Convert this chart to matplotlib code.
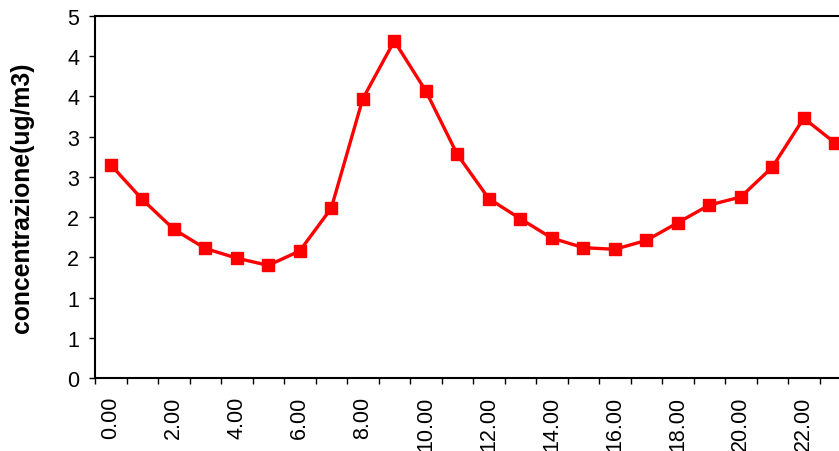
import matplotlib
matplotlib.use('Agg')
import matplotlib.pyplot as plt
import numpy as np
from matplotlib.ticker import FixedLocator, FuncFormatter

plt.rcParams['font.family'] = ['Liberation Sans', 'DejaVu Sans']

# hourly concentration
hours = ['%d.00' % h for h in range(24)]
conc = [2.65, 2.22, 1.85, 1.61, 1.49, 1.40, 1.58, 2.11, 3.47, 4.19, 3.57, 2.78,
        2.23, 1.98, 1.74, 1.62, 1.60, 1.71, 1.93, 2.15, 2.25, 2.62, 3.23, 2.92]
y_ticks = [0, 0.5, 1, 1.5, 2, 2.5, 3, 3.5, 4, 4.5]

fig = plt.figure(figsize=(8.39, 4.52), dpi=100)
# axes runs past the right edge of the figure, like the original
ax = fig.add_axes([95/839, 1-379/452, 756/839, 362/452])

x = np.arange(len(conc))
ax.plot(x, conc, color='#ff0000', lw=2.4, marker='s', ms=8.8, mec='#ff0000', mfc='#ff0000')

ax.set_xlim(-0.5, len(conc) - 0.5)
ax.set_ylim(0, 4.5)

ax.xaxis.set_major_locator(FixedLocator(x[::2]))
ax.set_xticklabels(hours[::2], rotation=90)
ax.xaxis.set_minor_locator(FixedLocator(np.arange(-0.5, len(conc), 1)))
ax.tick_params(axis='x', which='major', length=0, pad=13, labelsize=15.5)
ax.tick_params(axis='x', which='minor', length=4.5, width=1, direction='out')

ax.yaxis.set_major_locator(FixedLocator(y_ticks))
ax.yaxis.set_major_formatter(FuncFormatter(lambda v, p: '%d' % int(np.floor(v + 0.5))))
ax.tick_params(axis='y', length=4.5, width=1, pad=7, labelsize=15.5)

for s in ['left', 'top', 'bottom', 'right']:
    ax.spines[s].set_linewidth(1.5)

fig.text(22/839, 1-198/452, 'concentrazione(ug/m3)', rotation=90, ha='center', va='center',
         fontsize=17.8, fontweight='bold')

fig.savefig('out.png', dpi=100)
